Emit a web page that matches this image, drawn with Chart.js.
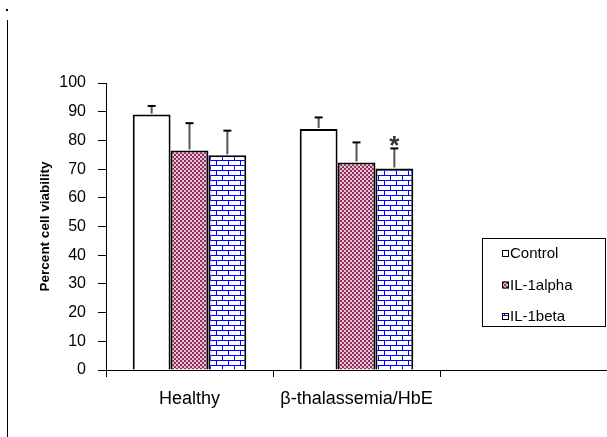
<!DOCTYPE html>
<html>
<head>
<meta charset="utf-8">
<script src="https://cdn.jsdelivr.net/npm/chart.js@4"></script>
<style>
  html, body { margin: 0; padding: 0; background: #fff; }
  #wrap { width: 607px; height: 437px; }
</style>
</head>
<body>
<div id="wrap"><canvas id="viabilityChart" width="607" height="437"></canvas></div>
<script>
// Data
const groups = ['Healthy', '\u03b2-thalassemia/HbE', ''];
const seriesNames = ['Control', 'IL-1alpha', 'IL-1beta'];
const controlMean = [89, 84, null];
const il1aMean = [76.5, 72.3, null];
const il1bMean = [74.8, 70.2, null];
const controlSd = [3, 4, null];
const il1aSd = [9.5, 7, null];
const il1bSd = [8.6, 7, null];
const il1bMarks = ['', '*', ''];
const yTicks = [0, 10, 20, 30, 40, 50, 60, 70, 80, 90, 100];

const fontFamily = '"Liberation Sans", Arial, sans-serif';

// Fill patterns
function checkPattern() {
  const c = document.createElement('canvas');
  c.width = 4; c.height = 4;
  const g = c.getContext('2d');
  g.fillStyle = '#e9c3d6';
  g.fillRect(0, 0, 4, 4);
  g.fillStyle = '#8f2f5c';
  g.fillRect(0, 0, 2, 2);
  g.fillRect(2, 2, 2, 2);
  return g.createPattern(c, 'repeat');
}

function brickPattern() {
  const c = document.createElement('canvas');
  c.width = 12; c.height = 10;
  const g = c.getContext('2d');
  g.fillStyle = '#ffffff';
  g.fillRect(0, 0, 12, 10);
  g.fillStyle = '#0000ff';
  g.fillRect(0, 0, 12, 1);
  g.fillRect(0, 5, 12, 1);
  g.fillRect(0, 0, 1, 5);
  g.fillRect(6, 5, 1, 5);
  return g.createPattern(c, 'repeat');
}

const fills = ['#ffffff', checkPattern(), brickPattern()];

// Error bars (upper only) and significance marks
const errorBars = {
  id: 'errorBars',
  afterDatasetsDraw(chart) {
    const ctx = chart.ctx;
    const y = chart.scales.y;
    chart.data.datasets.forEach((ds, i) => {
      const meta = chart.getDatasetMeta(i);
      meta.data.forEach((bar, j) => {
        const sd = ds.sd[j];
        if (ds.data[j] == null || sd == null) return;
        const top = y.getPixelForValue(ds.data[j] + sd);
        ctx.save();
        ctx.strokeStyle = '#555555';
        ctx.lineWidth = 2;
        ctx.beginPath();
        ctx.moveTo(bar.x, bar.y - 1);
        ctx.lineTo(bar.x, top);
        ctx.stroke();
        ctx.strokeStyle = '#000000';
        ctx.beginPath();
        ctx.moveTo(bar.x - 4, top);
        ctx.lineTo(bar.x + 4, top);
        ctx.stroke();
        if (ds.marks && ds.marks[j]) {
          ctx.fillStyle = '#333333';
          ctx.font = 'bold 26px ' + fontFamily;
          ctx.textAlign = 'center';
          ctx.textBaseline = 'middle';
          ctx.fillText(ds.marks[j], bar.x, top - 2);
        }
        ctx.restore();
      });
    });
  }
};

// Boxed legend drawn over the plot, plus the frame line on the left
const boxLegend = {
  id: 'boxLegend',
  afterDraw(chart) {
    const ctx = chart.ctx;
    ctx.save();
    ctx.fillStyle = '#000';
    ctx.fillRect(6, 9, 2, 2);
    ctx.fillRect(7, 20, 1, 417);

    ctx.fillStyle = '#fff';
    ctx.fillRect(482, 238, 124, 89);
    ctx.strokeStyle = '#000';
    ctx.lineWidth = 1;
    ctx.strokeRect(482.5, 238.5, 123, 88);
    ctx.font = '15px ' + fontFamily;
    ctx.textBaseline = 'middle';
    chart.data.datasets.forEach((ds, i) => {
      const cy = 253 + i * 31.5;
      ctx.fillStyle = ds.backgroundColor;
      ctx.fillRect(502, cy - 3, 7, 7);
      ctx.strokeStyle = '#000';
      ctx.strokeRect(502.5, cy - 2.5, 6, 6);
      ctx.fillStyle = '#000';
      ctx.fillText(ds.label, 510, cy + 1);
    });
    ctx.restore();
  }
};

const datasets = [controlMean, il1aMean, il1bMean].map((vals, i) => ({
  label: seriesNames[i],
  data: vals,
  sd: [controlSd, il1aSd, il1bSd][i],
  marks: i === 2 ? il1bMarks : null,
  backgroundColor: fills[i],
  borderColor: '#000000',
  borderWidth: 2,
  borderSkipped: 'bottom',
  categoryPercentage: 0.68,
  barPercentage: 1.0
}));

new Chart(document.getElementById('viabilityChart'), {
  type: 'bar',
  data: { labels: groups, datasets: datasets },
  options: {
    responsive: false,
    animation: false,
    layout: { padding: { top: 83, left: 0, right: 0, bottom: 0 } },
    plugins: {
      legend: { display: false },
      tooltip: { enabled: false }
    },
    scales: {
      x: {
        afterFit(scale) { scale.height = 67; },
        grid: {
          offset: true,
          drawOnChartArea: false,
          drawTicks: true,
          tickLength: 7,
          color: '#000'
        },
        border: { color: '#000', width: 1 },
        ticks: {
          color: '#000',
          padding: 11,
          maxRotation: 0,
          font: { family: fontFamily, size: 18 }
        }
      },
      y: {
        min: 0,
        max: 100,
        afterFit(scale) { scale.width = 106; },
        afterBuildTicks(scale) { scale.ticks = yTicks.map(v => ({ value: v })); },
        grid: {
          drawOnChartArea: false,
          drawTicks: true,
          tickLength: 8,
          color: '#000'
        },
        border: { color: '#000', width: 1 },
        ticks: {
          color: '#000',
          padding: 12,
          font: { family: fontFamily, size: 16 }
        },
        title: {
          display: true,
          text: 'Percent cell viability',
          color: '#000',
          padding: { top: 37, bottom: 0 },
          font: { family: fontFamily, size: 13.5, weight: 'bold' }
        }
      }
    }
  },
  plugins: [errorBars, boxLegend]
});
</script>
</body>
</html>
